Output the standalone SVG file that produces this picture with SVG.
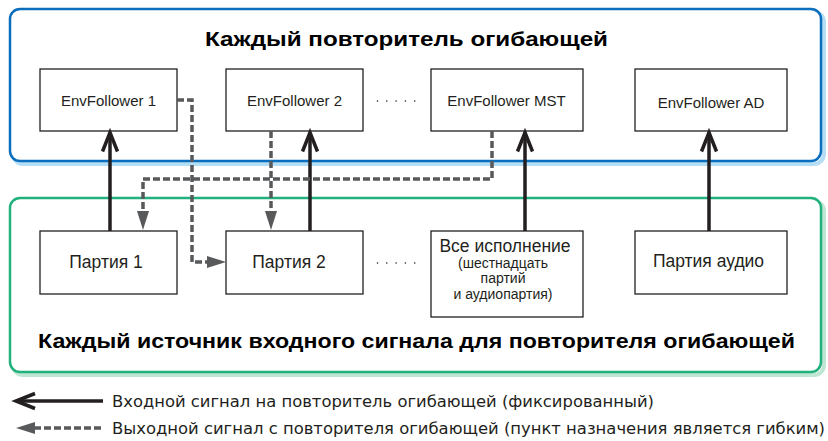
<svg xmlns="http://www.w3.org/2000/svg" width="828" height="441" viewBox="0 0 828 441">
<defs>
<style>
.node rect{fill:#fff;stroke:#231f20;stroke-width:1.3}
.lbl{font-family:"Liberation Sans",Arial,sans-serif;font-size:15px;fill:#231f20;text-anchor:middle}
.lbl2{font-family:"Liberation Sans",Arial,sans-serif;font-size:17.5px;fill:#231f20;text-anchor:middle}
.small{font-family:"Liberation Sans",Arial,sans-serif;font-size:14px;fill:#231f20;text-anchor:middle}
.title{font-family:"Liberation Sans",Arial,sans-serif;font-size:21px;font-weight:bold;fill:#000;text-anchor:middle}
.leg{font-family:"Liberation Sans Narrow","DejaVu Sans Condensed","Liberation Sans",sans-serif;font-size:16.5px;fill:#231f20}
.solid{fill:none;stroke:#231f20;stroke-width:3.5}
.dash{fill:none;stroke:#58595b;stroke-width:3.5;stroke-dasharray:7 3}
.dots{fill:none;stroke:#231f20;stroke-width:1.6;stroke-linecap:round;stroke-dasharray:0 9.3}
</style>
<marker id="open" markerUnits="userSpaceOnUse" viewBox="-22 -10 26 20" refX="0" refY="0" markerWidth="26" markerHeight="20" orient="auto" overflow="visible">
<path d="M-19,-7.5 L0,0 L-19,7.5" fill="none" stroke="#231f20" stroke-width="3.5"/>
</marker>
<marker id="tri" markerUnits="userSpaceOnUse" viewBox="0 -7 19 14" refX="0" refY="0" markerWidth="19" markerHeight="14" orient="auto" overflow="visible">
<path d="M0,-6 L19,0 L0,6 z" fill="#58595b"/>
</marker>
</defs>

<!-- containers -->
<g id="group-followers">
<rect x="13" y="12" width="811" height="152" rx="10" fill="none" stroke="#b3def5" stroke-width="4"/>
<rect x="10" y="9" width="811" height="152" rx="10" fill="#fff" stroke="#0a6ebd" stroke-width="2.5"/>
<text class="title" x="406.5" y="46" textLength="403" lengthAdjust="spacingAndGlyphs">Каждый повторитель огибающей</text>
</g>
<g id="group-sources">
<rect x="13" y="201" width="811" height="174" rx="10" fill="none" stroke="#bfe6d3" stroke-width="4"/>
<rect x="10" y="198" width="811" height="174" rx="10" fill="#fff" stroke="#22b07d" stroke-width="2.5"/>
<text class="title" x="416.5" y="348" textLength="757" lengthAdjust="spacingAndGlyphs">Каждый источник входного сигнала для повторителя огибающей</text>
</g>

<!-- nodes -->
<g id="ef1" class="node"><rect x="40" y="69" width="137" height="62"/><text class="lbl" x="108.5" y="106">EnvFollower 1</text></g>
<g id="ef2" class="node"><rect x="226" y="69" width="137" height="62"/><text class="lbl" x="294.5" y="106">EnvFollower 2</text></g>
<g id="efmst" class="node"><rect x="431" y="69" width="152" height="62"/><text class="lbl" x="506.5" y="106">EnvFollower MST</text></g>
<g id="efad" class="node"><rect x="635" y="69" width="152" height="62"/><text class="lbl" x="711" y="108">EnvFollower AD</text></g>

<g id="part1" class="node"><rect x="40" y="231" width="137" height="63"/><text class="lbl2" x="106" y="268">Партия 1</text></g>
<g id="part2" class="node"><rect x="226" y="231" width="137" height="63"/><text class="lbl2" x="289" y="268">Партия 2</text></g>
<g id="allperf" class="node"><rect x="431" y="231" width="152" height="86"/>
<text class="lbl2" x="505" y="252">Все исполнение</text>
<text class="small" x="503" y="268">(шестнадцать</text>
<text class="small" x="503" y="283">партий</text>
<text class="small" x="503" y="299">и аудиопартия)</text></g>
<g id="partaudio" class="node"><rect x="635" y="231" width="152" height="63"/><text class="lbl2" x="708.5" y="267">Партия аудио</text></g>

<!-- ellipses -->
<g id="ellipses">
<path class="dots" d="M377.5,101 L416,101"/>
<path class="dots" d="M377.5,263 L416,263"/>
</g>

<!-- connectors -->
<g id="connectors">
<path class="solid" d="M110,231 L110,132.5" marker-end="url(#open)"/>
<path class="solid" d="M310,231 L310,132.5" marker-end="url(#open)"/>
<path class="solid" d="M525,231 L525,132.5" marker-end="url(#open)"/>
<path class="solid" d="M709,231 L709,132.5" marker-end="url(#open)"/>

<path class="dash" d="M177,100 L192,100 L192,262 L207,262" marker-end="url(#tri)"/>
<path class="dash" d="M271,131 L271,211" marker-end="url(#tri)"/>
<path class="dash" d="M492,131 L492,179 L143,179 L143,211" marker-end="url(#tri)"/>
</g>

<!-- legend -->
<g id="legend">
<path class="solid" d="M103,401 L16,401" marker-end="url(#open)"/>
<text class="leg" x="112" y="406.5" textLength="542" lengthAdjust="spacingAndGlyphs">Входной сигнал на повторитель огибающей (фиксированный)</text>
<path class="dash" d="M101,428 L35,428" marker-end="url(#tri)"/>
<text class="leg" x="112" y="433.5" textLength="713" lengthAdjust="spacingAndGlyphs">Выходной сигнал с повторителя огибающей (пункт назначения является гибким)</text>
</g>
</svg>
